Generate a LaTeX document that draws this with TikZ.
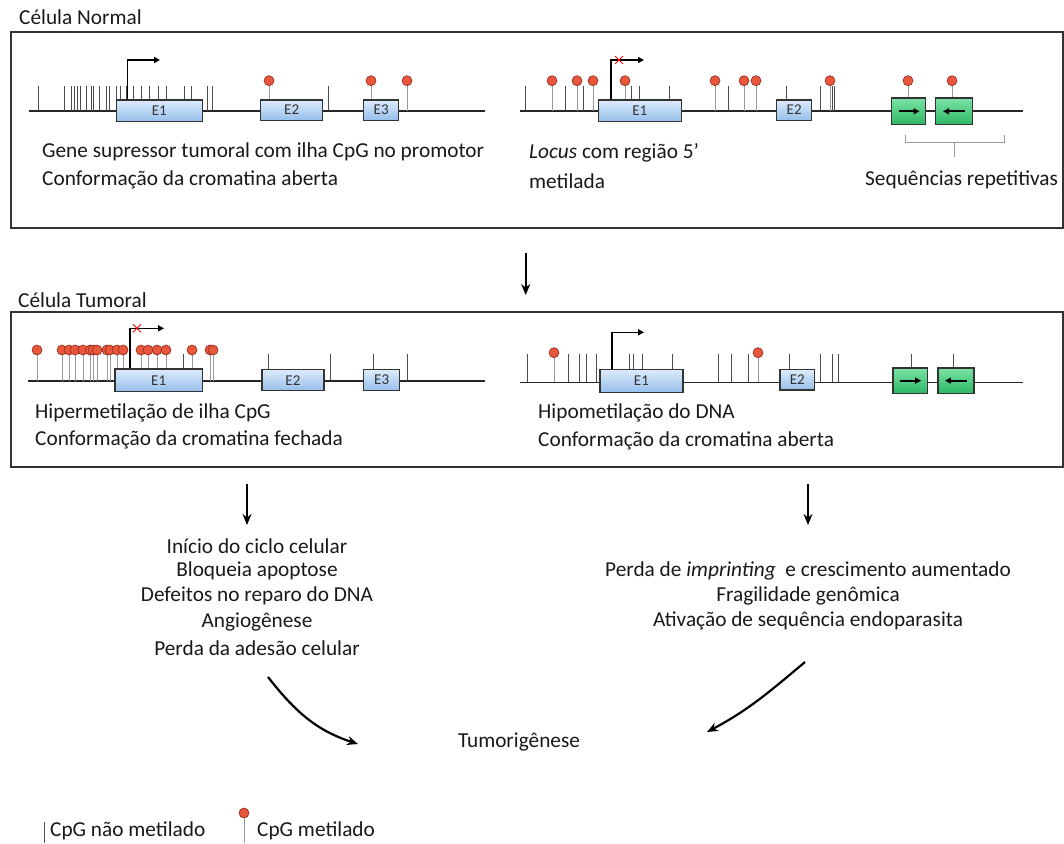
\documentclass[tikz,border=0pt]{standalone}
\usepackage{fontspec}
\setmainfont{Carlito}
\usetikzlibrary{arrows.meta}
\definecolor{exonA}{HTML}{DCEBFB}
\definecolor{exonB}{HTML}{96BFEB}
\definecolor{repA}{HTML}{7BE3A6}
\definecolor{repB}{HTML}{2DB865}
\definecolor{lolli}{HTML}{E9563C}
\definecolor{lolliD}{HTML}{8A2A1A}
\definecolor{stemg}{HTML}{9A9A9A}
\tikzset{
  dna/.style={line width=1.6pt, black!85},
  exon/.style={draw=black!80, line width=1.3pt, top color=exonA, bottom color=exonB},
  rep/.style={draw=black!80, line width=1.3pt, top color=repA, bottom color=repB},
  umtick/.style={line width=0.8pt, black!70},
  mstem/.style={line width=0.9pt, stemg},
  mball/.style={fill=lolli, draw=lolliD, line width=0.6pt},
  prom/.style={line width=1.5pt, black, -{Triangle[length=6pt,width=6pt]}},
  repar/.style={line width=1.8pt, black, -{Triangle[length=6pt,width=6pt]}},
  xmark/.style={red, line width=0.9pt},
  cellbox/.style={draw=black!80, line width=1.2pt},
  lbl/.style={font=\fontsize{21.3}{25}\selectfont, inner sep=0pt, text=black!90},
  exlbl/.style={font=\fontsize{15}{17}\selectfont, inner sep=0pt, text=black!80},
  bigarrow/.style={line width=2.2pt, black, -{Stealth[length=11pt,width=9pt]}},
}
\begin{document}
\begin{tikzpicture}[x=1pt,y=-1pt]
\useasboundingbox (0,0) rectangle (1064,843);

% ---------------- boxes and titles
\draw[cellbox] (11,32) rectangle (1063,228);
\draw[cellbox] (11,312) rectangle (1063,467);
\node[lbl, anchor=west] (tN) at (19,17) {Célula Normal};
\node[lbl, anchor=west] (tT) at (18,300) {Célula Tumoral};

% ================= NORMAL, LEFT
\draw[dna] (29,110.7) -- (485,110.7);
\foreach \x in {38,64,71,74,77,80,86,91,93,99,106,109,116,120,126,133,141,149,158,166,184,191,207,212,328}
  \draw[umtick] (\x,110.7) -- (\x,85.7);
\foreach \x in {269,371,407}
  \draw[mstem] (\x,110.7) -- (\x,80.7);
\node[exon, minimum width=86pt, minimum height=21.7pt, anchor=north west] (nE1) at (115.7,99.3) {};
\node[exon, minimum width=62pt, minimum height=20.2pt, anchor=north west] (nE2) at (260,99.3) {};
\node[exon, minimum width=35pt, minimum height=20.2pt, anchor=north west] (nE3) at (363,99.3) {};
\node[exlbl] at (nE1) {E1};
\node[exlbl] at (nE2) {E2};
\node[exlbl] at (nE3) {E3};
\foreach \x in {269,371,407}
  \draw[mball] (\x,80.7) circle (5);
\draw[prom] (127.3,99.3) -- (127.3,60) -- (160,60);

% ================= NORMAL, RIGHT
\draw[dna] (520,110.7) -- (1023,110.7);
\foreach \x in {525,565,583,631,639,669,728,786,820,832,834}
  \draw[umtick] (\x,110.7) -- (\x,85.7);
\foreach \x in {552,577,593,625,715,744,756,830,908,952}
  \draw[mstem] (\x,110.7) -- (\x,80.7);
\node[exon, minimum width=83pt, minimum height=21.7pt, anchor=north west] (mE1) at (597.7,99.3) {};
\node[exon, minimum width=35pt, minimum height=20.2pt, anchor=north west] (mE2) at (776,99.3) {};
\node[exlbl] at (mE1) {E1};
\node[exlbl] at (mE2) {E2};
\node[rep, minimum width=34.3pt, minimum height=26.7pt, anchor=north west] (nR1) at (890.7,97.3) {};
\node[rep, minimum width=36.7pt, minimum height=26.7pt, anchor=north west] (nR2) at (935,97.3) {};
\draw[repar] ([xshift=-10pt]nR1.center) -- ([xshift=11pt]nR1.center);
\draw[repar] ([xshift=11pt]nR2.center) -- ([xshift=-11pt]nR2.center);
\foreach \x in {552,577,593,625,715,744,756,830,908,952}
  \draw[mball] (\x,80.7) circle (5);
\draw[prom] (611,99.3) -- (611,60) -- (644,60);
\draw[xmark] (615,56) -- (623,64) (615,64) -- (623,56);

% bracket
\coordinate (bL) at (905,135);
\coordinate (bR) at (1004,135);
\draw[line width=0.8pt, stemg] (bL) -- (905,142.7) -- (1004,142.7) -- (bR);
\draw[line width=0.8pt, stemg] (954.3,142.7) -- (954.3,156.7);

\node[lbl, anchor=west] (g1) at (42,152) {Gene supressor tumoral com ilha CpG no promotor};
\node[lbl, anchor=west] (g2) at (42,180) {Conformação da cromatina aberta};
\node[lbl, anchor=west] (l1) at (529,153) {\textit{Locus} com região 5’};
\node[lbl, anchor=west] (l2) at (529,181) {metilada};
\node[lbl, anchor=west] (sr) at (865,180) {Sequências repetitivas};

% arrow between cells
\coordinate (a0s) at (525.7,253);
\coordinate (a0e) at (525.7,295);
\draw[bigarrow] (a0s) -- (a0e);

% ================= TUMOR, LEFT
\draw[dna] (28,380.7) -- (485,380.7);
\foreach \x in {183,268,330,373,407}
  \draw[umtick] (\x,380.7) -- (\x,354);
\foreach \x in {37,62,69,75,83,90,93,97,107,110,117,123,141,148,157,166,192,210,213}
  \draw[mstem] (\x,380.7) -- (\x,350);
\node[exon, minimum width=87.4pt, minimum height=22.7pt, anchor=north west] (tE1) at (114.3,368.3) {};
\node[exon, minimum width=62pt, minimum height=21pt, anchor=north west] (tE2) at (261.3,369) {};
\node[exon, minimum width=36pt, minimum height=21pt, anchor=north west] (tE3) at (363,369) {};
\node[exlbl] at (tE1) {E1};
\node[exlbl] at (tE2) {E2};
\node[exlbl] at (tE3) {E3};
\foreach \x in {37,62,69,75,83,90,93,97,107,110,117,123,141,148,157,166,192,210,213}
  \draw[mball] (\x,350) circle (5);
\draw[prom] (130,368.3) -- (130,328.3) -- (164,328.3);
\draw[xmark] (133,324.3) -- (141,332.3) (133,332.3) -- (141,324.3);

% ================= TUMOR, RIGHT
\draw[dna] (520,382.3) -- (1023,382.3);
\foreach \x in {527,568,579,586,596,629,633,642,672,718,731,748,789,820,832,838,911,953}
  \draw[umtick] (\x,382.3) -- (\x,354.3);
\foreach \x in {554,758}
  \draw[mstem] (\x,382.3) -- (\x,352.7);
\node[exon, minimum width=83pt, minimum height=22.7pt, anchor=north west] (uE1) at (599.3,369) {};
\node[exon, minimum width=34.7pt, minimum height=20.3pt, anchor=north west] (uE2) at (779.3,369) {};
\node[exlbl] at (uE1) {E1};
\node[exlbl] at (uE2) {E2};
\node[rep, minimum width=34.4pt, minimum height=25.4pt, anchor=north west] (tR1) at (892.3,367.3) {};
\node[rep, minimum width=36pt, minimum height=25.4pt, anchor=north west] (tR2) at (937.3,367.3) {};
\draw[repar] ([xshift=-10pt]tR1.center) -- ([xshift=11pt]tR1.center);
\draw[repar] ([xshift=11pt]tR2.center) -- ([xshift=-11pt]tR2.center);
\foreach \x in {554,758}
  \draw[mball] (\x,352.7) circle (5);
\draw[prom] (612,369) -- (612,332.3) -- (644,332.3);

\node[lbl, anchor=west] (h1) at (35,413) {Hipermetilação de ilha CpG};
\node[lbl, anchor=west] (h2) at (35,440) {Conformação da cromatina fechada};
\node[lbl, anchor=west] (o1) at (538,413) {Hipometilação do DNA};
\node[lbl, anchor=west] (o2) at (538,441) {Conformação da cromatina aberta};

% arrows down
\coordinate (a1s) at (247,484);
\coordinate (a1e) at (247,525);
\coordinate (a2s) at (808,484);
\coordinate (a2e) at (808,525);
\draw[bigarrow] (a1s) -- (a1e);
\draw[bigarrow] (a2s) -- (a2e);

% lists
\node[lbl] (p1) at (257,546) {Início do ciclo celular};
\node[lbl] (p2) at (257,571) {Bloqueia apoptose};
\node[lbl] (p3) at (257,596) {Defeitos no reparo do DNA};
\node[lbl] (p4) at (257,622) {Angiogênese};
\node[lbl] (p5) at (257,648) {Perda da adesão celular};
\node[lbl] (q1) at (808,571) {Perda de \textit{imprinting}\ \ e crescimento aumentado};
\node[lbl] (q2) at (808,596) {Fragilidade genômica};
\node[lbl] (q3) at (808,621) {Ativação de sequência endoparasita};

\node[lbl] (tum) at (519,742) {Tumorigênese};
\coordinate (c1s) at (268,677);
\coordinate (c1e) at (358,744);
\coordinate (c2s) at (805,662);
\coordinate (c2e) at (707,732);
\draw[bigarrow] (c1s) to[out=-52,in=162] (c1e);
\draw[bigarrow] (c2s) to[out=-140,in=28] (c2e);

% legend
\draw[umtick] (44,822) -- (44,843);
\node[lbl, anchor=west] (lg1) at (50,831) {CpG não metilado};
\draw[mstem] (244,843) -- (244,813);
\draw[mball] (244,813) circle (5);
\node[lbl, anchor=west] (lg2) at (257,831) {CpG metilado};
\end{tikzpicture}
\end{document}
